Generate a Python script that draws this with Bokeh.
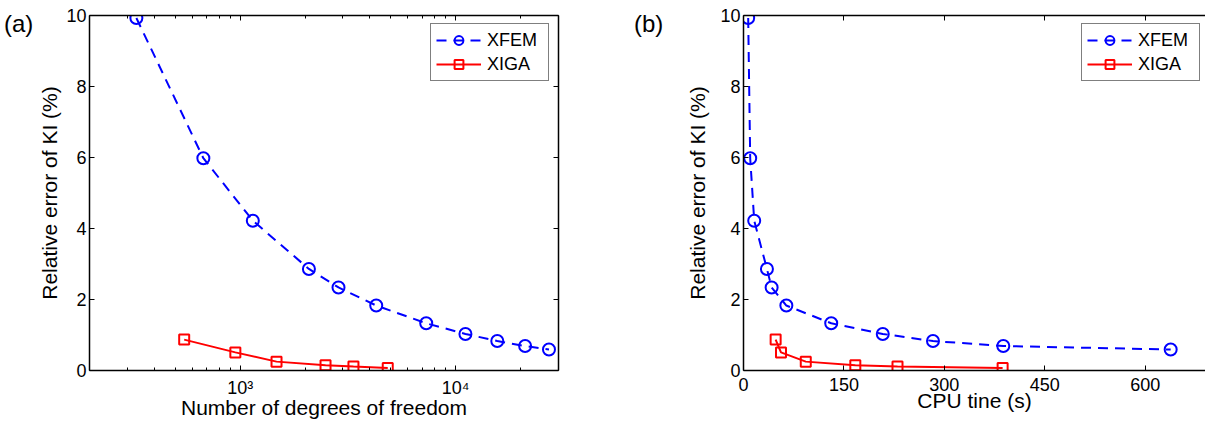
from bokeh.plotting import figure
from bokeh.models import (LinearAxis, LogAxis, FixedTicker, Range1d, Div,
                          CustomJSTickFormatter)
from bokeh.layouts import row
from bokeh.embed import file_html
from bokeh.resources import INLINE

# ---------------- data ----------------
xfem_dof = [330, 675, 1145, 2085, 2860, 4280, 7300, 11100, 15600, 21000, 27100]
xfem_cpu = [7, 10, 16, 35, 42, 64, 131, 208, 283, 388, 638]
xfem_err = [9.93, 5.98, 4.22, 2.86, 2.34, 1.83, 1.33, 1.03, 0.83, 0.69, 0.59]

xiga_dof = [550, 950, 1475, 2490, 3355, 4840]
xiga_cpu = [48, 56, 93, 167, 230, 387]
xiga_err = [0.87, 0.51, 0.25, 0.15, 0.11, 0.07]

y_ticks = [0, 2, 4, 6, 8, 10]
dof_major = [1000, 10000]
dof_minor = [200, 300, 400, 500, 600, 700, 800, 900,
             2000, 3000, 4000, 5000, 6000, 7000, 8000, 9000, 20000, 30000]
dof_labels = {1000: "10³", 10000: "10⁴"}
cpu_ticks = [0, 150, 300, 450, 600]

FONT = "Liberation Sans"
BLUE = "#0000ff"
RED = "#ff0000"
TICK_FS = "18px"
LABEL_FS = "21px"


def base_axis(ax):
    ax.axis_line_color = "black"
    ax.axis_line_width = 1.5
    ax.major_tick_line_color = "black"
    ax.major_tick_in = 5
    ax.major_tick_out = 0
    ax.minor_tick_in = 0
    ax.minor_tick_out = 0
    ax.major_label_text_font = FONT
    ax.major_label_text_font_size = TICK_FS
    ax.major_label_text_color = "black"
    ax.axis_label_text_font = FONT
    ax.axis_label_text_font_size = LABEL_FS
    ax.axis_label_text_font_style = "normal"
    ax.axis_label_text_color = "black"


def blank_axis(ax):
    base_axis(ax)
    ax.formatter = CustomJSTickFormatter(code="return ''")
    ax.major_label_standoff = 0


def make_fig(width, xtype, xr, bl, br, xlabel, xmajor, xminor, overrides, ylab_standoff):
    p = figure(width=width, height=421, x_axis_type=xtype, x_range=xr,
               y_range=Range1d(0, 10), output_backend="svg", toolbar_location=None,
               min_border_left=bl, min_border_right=br, min_border_top=15,
               min_border_bottom=50)
    p.outline_line_color = None
    p.xgrid.visible = False
    p.ygrid.visible = False
    p.background_fill_color = "white"
    p.border_fill_color = "white"

    xa = p.xaxis[0]
    base_axis(xa)
    xa.ticker = FixedTicker(ticks=xmajor, minor_ticks=xminor)
    if xminor:
        xa.minor_tick_in = 3
        xa.minor_tick_line_color = "black"
    if overrides:
        xa.major_label_overrides = overrides
    xa.major_label_standoff = 7
    xa.axis_label = xlabel
    xa.axis_label_standoff = -5

    ya = p.yaxis[0]
    base_axis(ya)
    ya.ticker = FixedTicker(ticks=y_ticks)
    ya.major_label_standoff = 3
    ya.axis_label = "Relative error of KI (%)"
    ya.axis_label_standoff = ylab_standoff

    top = LogAxis() if xtype == "log" else LinearAxis()
    blank_axis(top)
    top.ticker = FixedTicker(ticks=xmajor, minor_ticks=xminor)
    if xminor:
        top.minor_tick_in = 3
        top.minor_tick_line_color = "black"
    p.add_layout(top, "above")
    return p


def add_series(p, xf, xg, loc):
    p.line(xf, xfem_err, line_color=BLUE, line_width=2, line_dash="10 7",
           legend_label="XFEM")
    p.scatter(xf, xfem_err, marker="circle", size=12, line_color=BLUE,
              line_width=2, fill_color=None, legend_label="XFEM")
    p.line(xg, xiga_err, line_color=RED, line_width=2, legend_label="XIGA")
    p.scatter(xg, xiga_err, marker="square", size=10, line_color=RED,
              line_width=2, fill_color=None, legend_label="XIGA")
    lg = p.legend[0]
    lg.location = loc
    lg.border_line_color = "black"
    lg.border_line_width = 1.2
    lg.background_fill_color = "white"
    lg.background_fill_alpha = 1.0
    lg.padding = 5
    lg.spacing = 2
    lg.margin = 0
    lg.glyph_width = 45
    lg.glyph_height = 22
    lg.label_height = 22
    lg.label_width = 56
    lg.label_standoff = 6
    lg.label_text_font = FONT
    lg.label_text_font_size = "18px"
    lg.label_text_color = "black"


def tag_div(text, width, left):
    html = ('<div style="margin:12px 0 0 %dpx; font-family:\'Liberation Sans\';'
            ' font-size:24px; line-height:1; color:black; white-space:nowrap;">%s</div>'
            % (left, text))
    return Div(text=html, width=width, height=421, margin=0)


da = tag_div("(a)", 33, 4)
pa = make_fig(567, "log", Range1d(200, 30000), 56, 42,
              "Number of degrees of freedom", dof_major, dof_minor, dof_labels, 2)
ra = LinearAxis()
blank_axis(ra)
ra.ticker = FixedTicker(ticks=y_ticks)
pa.add_layout(ra, "right")
add_series(pa, xfem_dof, xiga_dof, (341, 289))

db = tag_div("(b)", 72, 34)
pb = make_fig(533, "linear", Range1d(0, 690), 71, 0,
              "CPU tine (s)", cpu_ticks, [], None, 8)
add_series(pb, xfem_cpu, xiga_cpu, (338, 289))

layout = row(da, pa, db, pb, spacing=0)
open("out.html", "w").write(file_html(layout, INLINE))
